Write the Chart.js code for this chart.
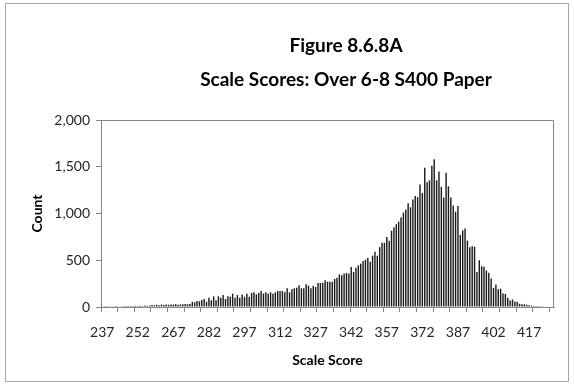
<!DOCTYPE html>
<html>
<head>
<meta charset="utf-8">
<script src="https://cdn.jsdelivr.net/npm/chart.js@4.4.1/dist/chart.umd.min.js"></script>
<style>
  body { margin: 0; background: #fff; }
  #score_chart { display: block; }
</style>
</head>
<body>
<canvas id="score_chart" width="574" height="386"></canvas>
<script>
// scale scores (one bar per score)
const scores = [
  237, 238, 239, 240, 241, 242, 243, 244, 245, 246,
  247, 248, 249, 250, 251, 252, 253, 254, 255, 256,
  257, 258, 259, 260, 261, 262, 263, 264, 265, 266,
  267, 268, 269, 270, 271, 272, 273, 274, 275, 276,
  277, 278, 279, 280, 281, 282, 283, 284, 285, 286,
  287, 288, 289, 290, 291, 292, 293, 294, 295, 296,
  297, 298, 299, 300, 301, 302, 303, 304, 305, 306,
  307, 308, 309, 310, 311, 312, 313, 314, 315, 316,
  317, 318, 319, 320, 321, 322, 323, 324, 325, 326,
  327, 328, 329, 330, 331, 332, 333, 334, 335, 336,
  337, 338, 339, 340, 341, 342, 343, 344, 345, 346,
  347, 348, 349, 350, 351, 352, 353, 354, 355, 356,
  357, 358, 359, 360, 361, 362, 363, 364, 365, 366,
  367, 368, 369, 370, 371, 372, 373, 374, 375, 376,
  377, 378, 379, 380, 381, 382, 383, 384, 385, 386,
  387, 388, 389, 390, 391, 392, 393, 394, 395, 396,
  397, 398, 399, 400, 401, 402, 403, 404, 405, 406,
  407, 408, 409, 410, 411, 412, 413, 414, 415, 416,
  417, 418, 419, 420, 421, 422, 423, 424, 425, 426,
  427,
];

// number of students at each score
const counts = [
  2, 1, 3, 2, 4, 8, 10, 5, 9, 10,
  11, 12, 10, 12, 13, 11, 14, 12, 15, 14,
  16, 22, 18, 24, 20, 26, 22, 28, 24, 28,
  26, 30, 25, 28, 30, 32, 30, 32, 55, 50,
  64, 60, 75, 85, 57, 100, 71, 114, 71, 114,
  100, 128, 85, 114, 110, 143, 100, 128, 100, 135,
  110, 143, 110, 150, 157, 135, 150, 171, 143, 157,
  143, 157, 143, 157, 171, 171, 171, 157, 200, 157,
  189, 200, 207, 232, 200, 200, 242, 228, 200, 228,
  214, 257, 257, 257, 285, 271, 271, 271, 300, 314,
  349, 339, 357, 364, 357, 428, 374, 421, 446, 463,
  492, 506, 528, 485, 549, 590, 549, 640, 686, 686,
  750, 709, 816, 852, 884, 913, 960, 1010, 1040, 1109,
  1066, 1150, 1187, 1175, 1310, 1220, 1490, 1335, 1355, 1510,
  1580, 1355, 1450, 1285, 1170, 1435, 1290, 1170, 1085, 1020,
  1080, 770, 820, 840, 710, 640, 650, 645, 375, 500,
  435, 430, 390, 365, 305, 205, 240, 190, 195, 145,
  140, 100, 70, 80, 60, 55, 35, 30, 30, 25,
  20, 15, 12, 10, 10, 8, 8, 6, 6, 5,
  5,
];

const tickLabels = ["237", "252", "267", "282", "297", "312", "327", "342", "357", "372", "387", "402", "417"];
const titleLines = ["Figure 8.6.8A", "Scale Scores: Over 6-8 S400 Paper"];

const axisGray = "#868686";
const textColor = "#262626";

// white background, title, plot area box and outer chart border
const frame = {
  id: "frame",
  beforeDraw(chart) {
    const c = chart.ctx;
    c.save();
    c.fillStyle = "#fff";
    c.fillRect(0, 0, chart.width, chart.height);
    c.restore();
  },
  afterDraw(chart) {
    const c = chart.ctx;
    const a = chart.chartArea;
    c.save();
    c.lineWidth = 1;
    c.strokeStyle = axisGray;
    c.beginPath();
    c.moveTo(a.left, Math.round(a.top) + 0.5);
    c.lineTo(Math.round(a.right) - 0.5, Math.round(a.top) + 0.5);
    c.lineTo(Math.round(a.right) - 0.5, a.bottom);
    c.stroke();
    c.strokeStyle = "#a6a6a6";
    c.strokeRect(5.5, 3.5, 563, 378);

    // title sits a little right of the canvas centre, as in the original
    c.fillStyle = "#000";
    c.font = "bold 19px Lato";
    c.textAlign = "center";
    c.textBaseline = "middle";
    c.fillText(titleLines[0], 346, 46);
    c.fillText(titleLines[1], 346, 80);
    c.restore();
  },
};

let context = document.querySelector("#score_chart").getContext("2d");
new Chart(context, {
  type: "bar",
  data: {
    labels: scores,
    datasets: [
      {
        data: counts,
        backgroundColor: "#1a1a1a",
        barPercentage: 0.6,
        categoryPercentage: 1,
      },
    ],
  },
  options: {
    responsive: false,
    animation: false,
    layout: {
      padding: { top: 120, left: 20, right: 20, bottom: 14 },
    },
    scales: {
      x: {
        grid: {
          offset: true,
          drawOnChartArea: false,
          tickLength: 5,
          color: (ctx) => (ctx.index % 7 === 0 ? axisGray : "rgba(0,0,0,0)"),
        },
        border: { color: axisGray },
        ticks: {
          autoSkip: false,
          maxRotation: 0,
          padding: 12,
          color: textColor,
          font: { family: "Lato", size: 14 },
          callback: function (value, index) {
            const label = String(scores[index]);
            return tickLabels.includes(label) ? label : "";
          },
        },
        title: {
          display: true,
          text: "Scale Score",
          color: "#000",
          font: { family: "Lato", size: 14, weight: "bold" },
          padding: { top: 0, bottom: 3 },
        },
        afterFit: (scale) => {
          scale.height = 65;
        },
      },
      y: {
        min: 0,
        max: 2000,
        grid: {
          drawOnChartArea: false,
          tickLength: 5,
          color: axisGray,
        },
        border: { color: axisGray },
        ticks: {
          stepSize: 500,
          padding: 6,
          color: textColor,
          font: { family: "Lato", size: 14 },
        },
        title: {
          display: true,
          text: "Count",
          color: "#000",
          font: { family: "Lato", size: 14, weight: "bold" },
          padding: { top: 9, bottom: 0 },
        },
        afterFit: (scale) => {
          scale.width = 81;
        },
      },
    },
    plugins: {
      legend: {
        display: false,
      },
      tooltip: {
        enabled: false,
      },
    },
  },
  plugins: [frame],
});
</script>
</body>
</html>
